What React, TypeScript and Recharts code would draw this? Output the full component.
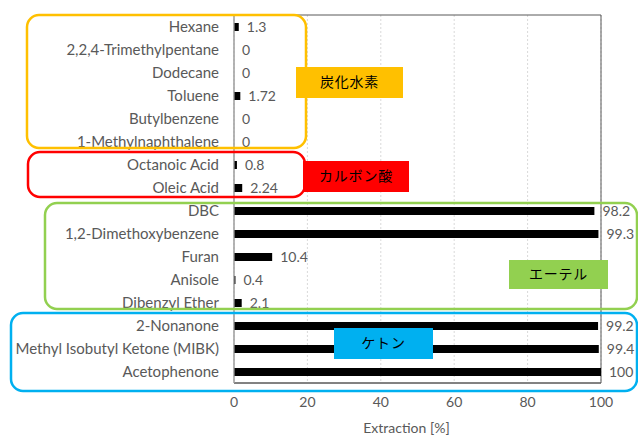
import React from 'react';
import { BarChart, Bar, XAxis, YAxis, CartesianGrid, LabelList, ReferenceArea } from 'recharts';

// solvents, top to bottom
const solvents = [
  'Hexane',
  '2,2,4-Trimethylpentane',
  'Dodecane',
  'Toluene',
  'Butylbenzene',
  '1-Methylnaphthalene',
  'Octanoic Acid',
  'Oleic Acid',
  'DBC',
  '1,2-Dimethoxybenzene',
  'Furan',
  'Anisole',
  'Dibenzyl Ether',
  '2-Nonanone',
  'Methyl Isobutyl Ketone (MIBK)',
  'Acetophenone',
];

// extraction rate per solvent [%]
const extraction = [1.3, 0, 0, 1.72, 0, 0, 0.8, 2.24, 98.2, 99.3, 10.4, 0.4, 2.1, 99.2, 99.4, 100];

const xTicks = [0, 20, 40, 60, 80, 100];

// solvent families and their tags
const groupNames = ['炭化水素', 'カルボン酸', 'エーテル', 'ケトン'];
const groupColors = ['#FFC000', '#FF0000', '#92D050', '#00B0F0'];

const data = solvents.map((name, i) => ({ name, value: extraction[i] }));

// outline boxes and tag boxes for each family (chart pixel coords)
const groupLayout = [
  { box: [19, 7, 279, 133], tag: [288, 59, 107, 31] },
  { box: [20, 144, 277, 45], tag: [295, 153, 106, 31] },
  { box: [37, 195, 592, 106], tag: [501, 252, 99, 29] },
  { box: [3, 305, 626, 78], tag: [326, 320, 99, 31] },
];

const W = 630;
const H = 428;
const FONT = 'Lato, "Open Sans", sans-serif';
const GREY = '#595959';

const GroupOverlay = () => (
  <svg width={W} height={H} style={{ position: 'absolute', left: 8, top: 8, pointerEvents: 'none', overflow: 'visible' }}>
    {groupLayout.map((g, i) => {
      const [bx, by, bw, bh] = g.box;
      const [tx, ty, tw, th] = g.tag;
      return (
        <g key={groupNames[i]}>
          <rect x={bx} y={by} width={bw} height={bh} rx={12} ry={12} fill="none" stroke={groupColors[i]} strokeWidth={2.5} />
          <rect x={tx} y={ty} width={tw} height={th} fill={groupColors[i]} />
          <text
            x={tx + tw / 2}
            y={ty + th / 2 + 1}
            textAnchor="middle"
            dominantBaseline="middle"
            fontFamily='"Noto Sans CJK JP", sans-serif'
            fontSize={14}
            letterSpacing={0.8}
            fill="#000"
          >
            {groupNames[i]}
          </text>
        </g>
      );
    })}
  </svg>
);

export default function App() {
  return (
    <div style={{ position: 'relative', width: W + 8, height: H + 8, padding: '8px 0 0 8px', boxSizing: 'border-box', fontFamily: FONT, overflow: 'hidden' }}>
      <style>{'body { margin: 0; overflow: hidden; }'}</style>
      <BarChart
        width={W}
        height={H}
        data={data}
        layout="vertical"
        margin={{ top: 7, right: 37, bottom: 0, left: 0 }}
        barCategoryGap={0}
      >
        <CartesianGrid horizontal={false} stroke="#d9d9d9" strokeDasharray="2 2" />
        <XAxis
          type="number"
          domain={[0, 100]}
          ticks={xTicks}
          tickLine={false}
          tickSize={0}
          tickMargin={14}
          height={53}
          axisLine={{ stroke: '#595959' }}
          tick={{ fill: GREY, fontSize: 14, fontFamily: FONT }}
          label={{ value: 'Extraction [%]', position: 'insideBottom', offset: 3, dx: -11, fill: GREY, fontSize: 14, fontFamily: FONT }}
        />
        <YAxis
          type="category"
          dataKey="name"
          width={226}
          interval={0}
          tickLine={false}
          tickSize={0}
          tickMargin={15}
          axisLine={{ stroke: '#bfbfbf' }}
          tick={{ fill: GREY, fontSize: 15, fontFamily: FONT }}
        />
        <ReferenceArea x1={0} x2={100} fill="none" stroke="#595959" strokeWidth={1} ifOverflow="visible" />
        <Bar dataKey="value" fill="#000" barSize={8} minPointSize={0.001} isAnimationActive={false}>
          <LabelList dataKey="value" position="right" offset={8} fill={GREY} fontSize={14} fontFamily={FONT} />
        </Bar>
      </BarChart>
      <GroupOverlay />
    </div>
  );
}
